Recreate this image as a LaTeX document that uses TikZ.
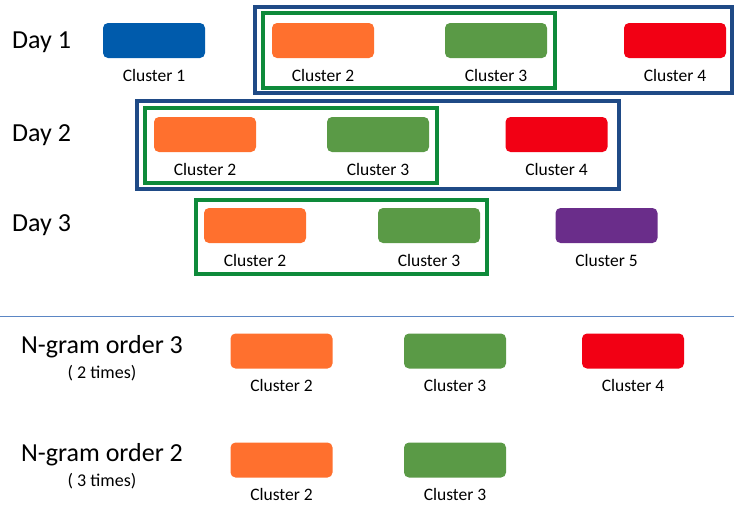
\documentclass[tikz,border=0pt]{standalone}
\usepackage{fontspec}
\setmainfont{Carlito}
\definecolor{cblue}{HTML}{005BAC}
\definecolor{corange}{HTML}{FF702E}
\definecolor{cgreen}{HTML}{5A9A46}
\definecolor{cred}{HTML}{F20014}
\definecolor{cpurple}{HTML}{6A2D8A}
\definecolor{fblue}{HTML}{1F4A86}
\definecolor{fgreen}{HTML}{0E8A3A}
\definecolor{sepline}{HTML}{5B86C4}
\tikzset{
  clbox/.style={rounded corners=5pt, minimum width=102pt, minimum height=35pt, inner sep=0pt},
  cllabel/.style={font=\fontsize{17.5}{20}\selectfont, inner sep=0pt, text=black},
  daylabel/.style={font=\fontsize{26}{30}\selectfont, inner sep=0pt, anchor=west},
  bluefr/.style={draw=fblue, line width=3.2pt},
  greenfr/.style={draw=fgreen, line width=3.2pt},
  timeslabel/.style={font=\fontsize{18}{20}\selectfont, inner sep=0pt},
}
\newcommand{\clnode}[6]{%
  \node[clbox, fill=#4] (#1) at (#2,#3) {};
  \node[cllabel] (#1l) at (#2,#3+34.5) {#5 #6};
}
\begin{document}
\begin{tikzpicture}[x=1pt,y=-1pt]
\useasboundingbox (0,0) rectangle (734,504);
% frames
\draw[bluefr] (255,7) rectangle (732,93);
\draw[greenfr] (263,13) rectangle (555,88);
\draw[bluefr] (137,101) rectangle (619,189);
\draw[greenfr] (145,108) rectangle (437,183);
\draw[greenfr] (196,200) rectangle (487,274);
% day labels
\node[daylabel] (d1) at (12,42) {Day 1};
\node[daylabel] (d2) at (12,135) {Day 2};
\node[daylabel] (d3) at (12,225) {Day 3};
% day 1
\clnode{a1}{154}{40.5}{cblue}{Cluster}{1}
\clnode{a2}{323}{40.5}{corange}{Cluster}{2}
\clnode{a3}{496}{40.5}{cgreen}{Cluster}{3}
\clnode{a4}{675}{40.5}{cred}{Cluster}{4}
% day 2
\clnode{b2}{205}{134.5}{corange}{Cluster}{2}
\clnode{b3}{378}{134.5}{cgreen}{Cluster}{3}
\clnode{b4}{556.5}{134.5}{cred}{Cluster}{4}
% day 3
\clnode{c2}{255}{225.5}{corange}{Cluster}{2}
\clnode{c3}{429}{225.5}{cgreen}{Cluster}{3}
\clnode{c5}{606.5}{225.5}{cpurple}{Cluster}{5}
% separator
\coordinate (s1) at (0,316.5);
\coordinate (s2) at (734,316.5);
\draw[sepline, line width=1.2pt] (s1) -- (s2);
% n-gram 3
\node[font=\fontsize{26}{30}\selectfont, inner sep=0pt] (n3) at (102,347) {N-gram order 3};
\node[timeslabel] (n3t) at (102,373) {( 2 times)};
\clnode{e2}{281.5}{351}{corange}{Cluster}{2}
\clnode{e3}{455}{351}{cgreen}{Cluster}{3}
\clnode{e4}{633}{351}{cred}{Cluster}{4}
% n-gram 2
\node[font=\fontsize{26}{30}\selectfont, inner sep=0pt] (n2) at (102,455) {N-gram order 2};
\node[timeslabel] (n2t) at (102,481) {( 3 times)};
\clnode{f2}{281.5}{460}{corange}{Cluster}{2}
\clnode{f3}{455}{460}{cgreen}{Cluster}{3}
\end{tikzpicture}
\end{document}
